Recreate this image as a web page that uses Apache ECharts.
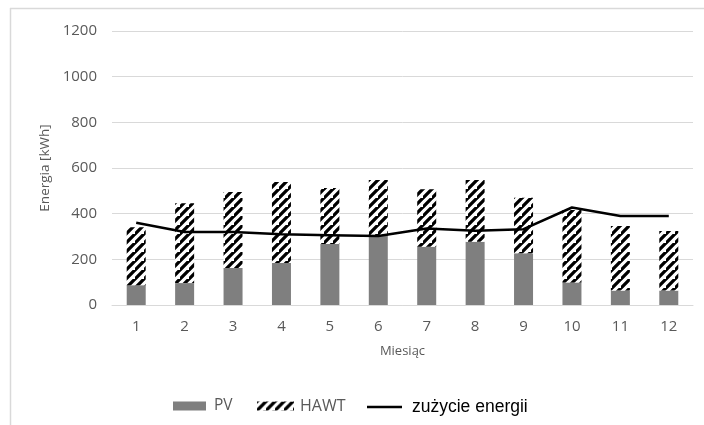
<!DOCTYPE html>
<html>
<head>
<meta charset="utf-8">
<script src="https://cdn.jsdelivr.net/npm/echarts@6/dist/echarts.min.js"></script>
<style>html,body{margin:0;padding:0;background:#fff}#c{width:704px;height:425px}</style>
</head>
<body>
<div id="c"></div>
<script>
const months = ['1','2','3','4','5','6','7','8','9','10','11','12'];
const pv = [87, 96, 162, 184, 267, 302, 255, 277, 227, 99, 63, 63];
const hawt = [254, 350, 333, 355, 245, 245, 252, 270, 243, 317, 283, 261];
const consumption = [360, 320, 320, 310, 306, 302, 335, 325, 332, 427, 390, 390];
const yTicks = { min: 0, max: 1200, interval: 200 };

function makeHatch() {
  const s = 9;
  const c = document.createElement('canvas');
  c.width = s; c.height = s;
  const ctx = c.getContext('2d');
  ctx.fillStyle = '#ffffff';
  ctx.fillRect(0, 0, s, s);
  ctx.strokeStyle = '#000000';
  ctx.lineWidth = 3.3;
  ctx.beginPath();
  ctx.moveTo(-2, s + 2); ctx.lineTo(s + 2, -2);
  ctx.moveTo(-s - 2, s + 2); ctx.lineTo(2, -2);
  ctx.moveTo(s - 2, 2 * s + 2); ctx.lineTo(2 * s + 2, s - 2);
  ctx.stroke();
  return c;
}
const hatch = { image: makeHatch(), repeat: 'repeat' };

const chart = echarts.init(document.getElementById('c'), null, { renderer: 'canvas' });
const labelFont = { color: '#595959', fontFamily: 'Open Sans', fontSize: 15 };
chart.setOption({
  animation: false,
  backgroundColor: '#fff',
  graphic: [
    { type: 'line', shape: { x1: 10, y1: 8.5, x2: 704, y2: 8.5 }, style: { stroke: '#d9d9d9', lineWidth: 1.5 } },
    { type: 'line', shape: { x1: 10.5, y1: 8, x2: 10.5, y2: 425 }, style: { stroke: '#d9d9d9', lineWidth: 1.5 } }
  ],
  grid: { left: 112, right: 11, top: 31, bottom: 120, containLabel: false },
  legend: [
    { data: ['PV'], left: 173, top: 398, padding: 0, itemGap: 0, itemWidth: 33, itemHeight: 9, icon: 'rect', textStyle: { color: '#595959', fontFamily: 'Open Sans', fontSize: 15.5, padding: [0, 0, 0, 3] } },
    { data: ['HAWT'], left: 257, top: 398, padding: 0, itemWidth: 37, itemHeight: 9, icon: 'rect', textStyle: { color: '#595959', fontFamily: 'Open Sans', fontSize: 16, padding: [0, 0, 0, 1] } },
    { data: ['zużycie energii'], left: 367, top: 398, padding: 0, itemWidth: 35, itemHeight: 2.5, icon: 'rect', textStyle: { color: '#000', fontFamily: 'Liberation Sans', fontSize: 17.5, padding: [0, 0, 0, 5] } }
  ],
  xAxis: {
    type: 'category',
    data: months,
    name: 'Miesiąc',
    nameLocation: 'middle',
    nameGap: 40,
    nameTextStyle: { color: '#595959', fontFamily: 'Open Sans', fontSize: 13 },
    axisLine: { lineStyle: { color: '#d9d9d9', width: 1 } },
    axisTick: { show: false },
    axisLabel: Object.assign({ margin: 14 }, labelFont)
  },
  yAxis: {
    type: 'value',
    min: yTicks.min, max: yTicks.max, interval: yTicks.interval,
    name: 'Energia [kWh]',
    nameLocation: 'middle',
    nameGap: 59,
    nameTextStyle: { color: '#595959', fontFamily: 'Open Sans', fontSize: 13.5 },
    axisLine: { show: false },
    axisTick: { show: false },
    splitLine: { lineStyle: { color: '#d9d9d9', width: 1 } },
    axisLabel: Object.assign({ margin: 15, formatter: function (v) { return String(v); } }, labelFont)
  },
  series: [
    { name: 'PV', type: 'bar', stack: 'e', data: pv, barWidth: 19, itemStyle: { color: '#7f7f7f' } },
    { name: 'HAWT', type: 'bar', stack: 'e', data: hawt, barWidth: 19, itemStyle: { color: hatch } },
    { name: 'zużycie energii', type: 'line', data: consumption, symbol: 'none', lineStyle: { color: '#000', width: 2.5 }, itemStyle: { color: '#000' } }
  ]
});
</script>
</body>
</html>
